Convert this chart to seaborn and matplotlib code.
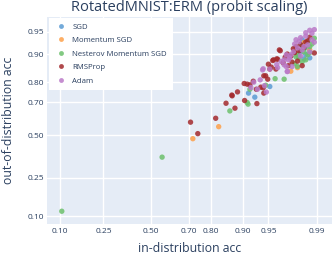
import numpy as np
import pandas as pd
import matplotlib
matplotlib.use("Agg")
import matplotlib.pyplot as plt
import seaborn as sns
from statistics import NormalDist

_nd = NormalDist()

def probit(a):
    a = np.clip(np.asarray(a, dtype=float), 1e-6, 1 - 1e-6)
    return np.vectorize(_nd.inv_cdf, otypes=[float])(a)

def inv_probit(z):
    return np.vectorize(_nd.cdf, otypes=[float])(np.asarray(z, dtype=float))

# ---------------- data (in-distribution acc, out-of-distribution acc) -------------
sgd_x = [0.914, 0.927, 0.952, 0.984, 0.983, 0.986, 0.982, 0.987, 0.983, 0.985, 0.981]
sgd_y = [0.748, 0.727, 0.780, 0.887, 0.935, 0.917, 0.907, 0.890, 0.922, 0.900, 0.895]

mom_x = [0.720, 0.828, 0.975, 0.980, 0.987, 0.984]
mom_y = [0.478, 0.554, 0.845, 0.858, 0.912, 0.929]

nes_x = [0.104, 0.560, 0.865, 0.911, 0.913, 0.917, 0.946, 0.959, 0.969, 0.980, 0.989,
         0.982, 0.984, 0.986, 0.981, 0.985, 0.987, 0.980, 0.988, 0.983, 0.986,
         0.978, 0.984, 0.987, 0.979]
nes_y = [0.114, 0.364, 0.650, 0.698, 0.689, 0.767, 0.786, 0.815, 0.813, 0.862, 0.938,
         0.924, 0.907, 0.931, 0.890, 0.884, 0.920, 0.899, 0.926, 0.878, 0.899,
         0.872, 0.915, 0.905, 0.893]

rms_x = [0.709, 0.743, 0.817, 0.853, 0.880, 0.872, 0.871, 0.887, 0.904, 0.911, 0.917,
         0.905, 0.931, 0.924, 0.930, 0.938, 0.942, 0.943, 0.949, 0.943, 0.946, 0.960,
         0.952, 0.950, 0.957, 0.962, 0.965, 0.989,
         0.964, 0.970, 0.972, 0.977, 0.979, 0.982, 0.985, 0.956, 0.961, 0.954, 0.973,
         0.976, 0.980, 0.983, 0.987, 0.986, 0.981, 0.975, 0.968, 0.984, 0.978]
rms_y = [0.582, 0.510, 0.606, 0.694, 0.666, 0.734, 0.738, 0.754, 0.794, 0.791, 0.788,
         0.709, 0.692, 0.804, 0.767, 0.777, 0.774, 0.748, 0.813, 0.827, 0.827, 0.853,
         0.853, 0.870, 0.884, 0.886, 0.910, 0.904,
         0.912, 0.892, 0.901, 0.915, 0.920, 0.925, 0.930, 0.882, 0.887, 0.860, 0.865,
         0.877, 0.880, 0.865, 0.940, 0.933, 0.910, 0.895, 0.875, 0.918, 0.905]

adam_x = [0.942, 0.937, 0.944, 0.932, 0.919, 0.962, 0.972, 0.969, 0.976, 0.941, 0.952,
          0.961, 0.966, 0.971, 0.972, 0.989, 0.988, 0.987, 0.989, 0.925, 0.947,
          0.982, 0.985, 0.981, 0.986, 0.983, 0.980, 0.977, 0.975, 0.988, 0.985, 0.979,
          0.973, 0.969, 0.971, 0.987, 0.982, 0.978, 0.984, 0.974]
adam_y = [0.854, 0.810, 0.784, 0.767, 0.775, 0.858, 0.844, 0.868, 0.862, 0.850, 0.853,
          0.869, 0.879, 0.862, 0.844, 0.953, 0.947, 0.952, 0.930, 0.800, 0.753,
          0.939, 0.942, 0.931, 0.924, 0.912, 0.917, 0.907, 0.899, 0.935, 0.948, 0.935,
          0.884, 0.884, 0.899, 0.907, 0.896, 0.926, 0.920, 0.890]

optimizers = ["SGD", "Momentum SGD", "Nesterov Momentum SGD", "RMSProp", "Adam"]
colors = ["#5a9bd3", "#fda04a", "#6cc06c", "#a3292d", "#bb7ac8"]

x_ticks = [0.10, 0.25, 0.50, 0.70, 0.80, 0.90, 0.95, 0.99]
y_ticks = [0.10, 0.25, 0.50, 0.70, 0.80, 0.90, 0.95]

rows = []
for name, xs, ys in zip(optimizers, [sgd_x, mom_x, nes_x, rms_x, adam_x],
                        [sgd_y, mom_y, nes_y, rms_y, adam_y]):
    for a, b in zip(xs, ys):
        rows.append({"optimizer": name, "in_acc": a, "out_acc": b})
df = pd.DataFrame(rows)

# ---------------- figure ----------------
sns.set_theme(style="darkgrid")
plt.rcParams["font.family"] = ["Open Sans", "DejaVu Sans"]
text_col = "#2a3f5f"

fig = plt.figure(figsize=(3.32, 2.54), dpi=100)
ax = fig.add_axes([47 / 332, 30 / 254, 285 / 332, 207 / 254])
ax.set_facecolor("#E5ECF6")

ax.set_xscale("function", functions=(probit, inv_probit))
ax.set_yscale("function", functions=(probit, inv_probit))

sns.scatterplot(data=df, x="in_acc", y="out_acc", hue="optimizer",
                hue_order=optimizers, palette=colors, s=15, alpha=0.85,
                linewidth=0, ax=ax, zorder=3)

ax.set_xlim(float(inv_probit(-1.467)), float(inv_probit(2.539)))
ax.set_ylim(float(inv_probit(-1.408)), float(inv_probit(1.875)))

ax.set_xticks(x_ticks)
ax.set_xticklabels([f"{t:.2f}" for t in x_ticks])
ax.set_yticks(y_ticks)
ax.set_yticklabels([f"{t:.2f}" for t in y_ticks])
ax.minorticks_off()
ax.grid(True, color="white", linewidth=1.0)
ax.tick_params(axis="both", length=0, labelsize=6, colors=text_col)
ax.tick_params(axis="x", pad=3)
ax.tick_params(axis="y", pad=2)
for s in ax.spines.values():
    s.set_visible(False)

ax.set_xlabel("in-distribution acc", fontsize=8.8, color=text_col)
ax.set_ylabel("out-of-distribution acc", fontsize=8.8, color=text_col)
ax.xaxis.set_label_coords(0.5, -(248 - 224) / 207, transform=ax.transAxes)
ax.xaxis.label.set_va("center")
ax.yaxis.set_label_coords(-(47 - 8.5) / 285, 0.5, transform=ax.transAxes)
ax.yaxis.label.set_va("center")
fig.text(189 / 332, 1 - 7.5 / 254, "RotatedMNIST:ERM (probit scaling)",
         ha="center", va="center", fontsize=10.5, color=text_col)

leg = ax.legend(loc="upper left", bbox_to_anchor=(0.007, 0.997), borderaxespad=0,
                frameon=True, facecolor="white", edgecolor="white", framealpha=1,
                fancybox=False, fontsize=5.6, markerscale=0.9, handletextpad=0.7,
                labelspacing=0.78, borderpad=0.72, handlelength=1.6, title=None)
for t in leg.get_texts():
    t.set_color(text_col)
leg.get_frame().set_linewidth(0)

fig.savefig("out.png", dpi=100)
